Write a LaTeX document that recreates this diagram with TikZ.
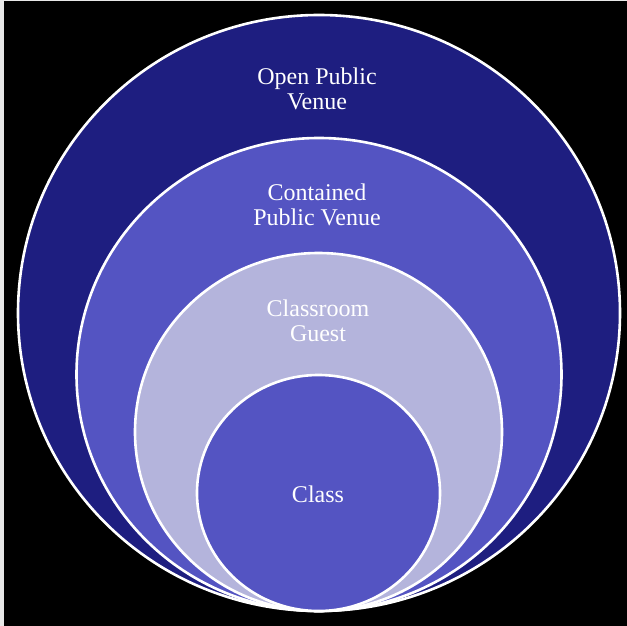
\documentclass[tikz,border=0pt]{standalone}
\usepackage{fontspec}
\setmainfont{Liberation Serif}
\definecolor{navy}{HTML}{1E1E80}
\definecolor{midblue}{HTML}{5454C2}
\definecolor{lavender}{HTML}{B4B4DC}
\definecolor{edge}{HTML}{E8E8E8}
\tikzset{
  ring/.style={draw=white, line width=2.6pt},
  lbl/.style={text=white, align=center, font=\fontsize{24}{25}\selectfont, inner sep=0pt}
}
\begin{document}
\begin{tikzpicture}[x=1pt,y=-1pt]
\useasboundingbox (0,0) rectangle (627,626);
\fill[black] (0,0) rectangle (627,626);
\fill[edge] (0,0) rectangle (3.5,626);
\fill[edge] (0,0) rectangle (627,1.2);
\draw[ring, fill=navy] (319,313) ellipse [x radius=301pt, y radius=298pt];
\draw[ring, fill=midblue] (319,374.5) ellipse [x radius=242.5pt, y radius=236.5pt];
\draw[ring, fill=lavender] (318.5,432) ellipse [x radius=183.5pt, y radius=179pt];
\draw[ring, fill=midblue] (318.5,493) ellipse [x radius=121.5pt, y radius=118pt];
\node[lbl] (open) at (317,89) {Open Public\\Venue};
\node[lbl] (contained) at (317,205) {Contained\\Public Venue};
\node[lbl] (guest) at (318,321) {Classroom\\Guest};
\node[lbl] (class) at (318,494) {Class};
\end{tikzpicture}
\end{document}
